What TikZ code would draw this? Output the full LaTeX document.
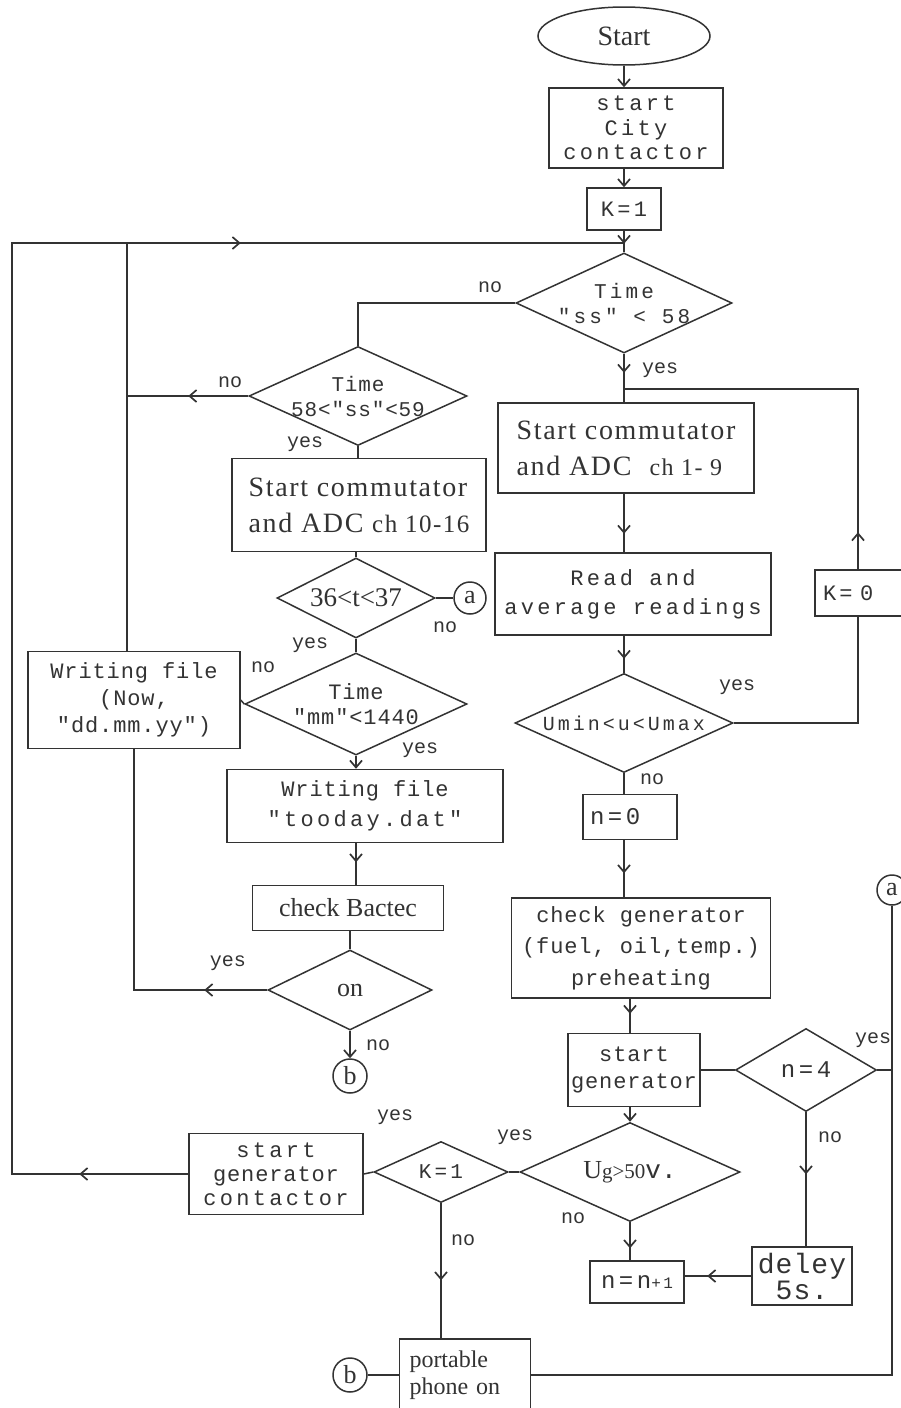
\documentclass[tikz,border=0pt]{standalone}
\usepackage{fontspec}
\setmainfont{Liberation Serif}
\newfontfamily\monow[LetterSpace=15]{Liberation Mono}
\newfontfamily\monon[LetterSpace=4]{Liberation Mono}
\newfontfamily\monoz{Liberation Mono}
\newfontfamily\serifw[LetterSpace=6]{Liberation Serif}
\usetikzlibrary{shapes.geometric,arrows.meta,decorations.markings,calc}
\definecolor{ink}{gray}{0.2}
\tikzset{
 ln/.style={draw=ink,line width=1.5pt},
 box/.style={draw=ink,line width=1.5pt,rectangle,inner sep=0pt,align=center,text=ink},
 dia/.style={draw=ink,line width=1.5pt,diamond,inner sep=0pt},
 dtxt/.style={text=ink,align=center,inner sep=0pt},
 lab/.style={text=ink,font=\monoz\fontsize{20}{20}\selectfont,inner sep=0pt},
 conn/.style={draw=ink,line width=1.5pt,circle,inner sep=0pt,minimum size=32pt,font=\fontsize{26}{26}\selectfont,text=ink},
 endarr/.style={-{Straight Barb[length=7pt,width=12pt,line width=1.7pt]}},
 arrowat/.style={postaction={decorate,decoration={markings,mark=at position #1 with {\arrow{Straight Barb[length=7pt,width=12pt,line width=1.7pt]}}}}},
}
\begin{document}
\begin{tikzpicture}[x=1pt,y=-1pt]
\clip (0,0) rectangle (901,1408);
\fill[white] (0,0) rectangle (901,1408);

% ---------- top ----------
\node[ellipse,draw=ink,line width=1.5pt,minimum width=172pt,minimum height=58pt,inner sep=0pt,font=\fontsize{28}{28}\selectfont,text=ink] (start) at (624,36) {Start};
\node[box,minimum width=174pt,minimum height=80pt,font=\monow\fontsize{22}{24.5}\selectfont] (city) at (636,128) {start\\City\\contactor};
\node[box,minimum width=74pt,minimum height=42pt,font=\monow\fontsize{22}{24}\selectfont] (k1) at (624,209) {K=1};
\coordinate (j1) at (624,243);
\coordinate (ll) at (12,243);
\coordinate (lv) at (127,243);

\draw[ln,endarr] (start.south) -- (start.south |- city.north);
\draw[ln,endarr] (k1.north |- city.south) -- (k1.north);

% ---------- decision 1 ----------
\node[dia,minimum width=216pt,minimum height=100pt,label={[dtxt,font=\monow\fontsize{21}{25}\selectfont]center:{Time\\"ss" < 58}}] (d1) at (624,303) {};
\draw[ln,arrowat=13pt] (k1.south) -- (d1.north);
\node[lab] at (490,287) {no};

% ---------- left column ----------
\node[dia,minimum width=218pt,minimum height=99pt,label={[dtxt,font=\monon\fontsize{21}{25}\selectfont]center:{Time\\58<"ss"<59}}] (d2) at (358,396) {};
\draw[ln] (d1.west) -- (d1.west -| d2.north) -- (d2.north);
\draw[ln,arrowat=60pt] (d2.west) -- (d2.west -| lv);
\node[lab] at (230,382) {no};

\node[box,minimum width=254pt,minimum height=93pt,align=left,font=\serifw\fontsize{28}{36}\selectfont] (b1) at (359,505) {Start commutator\\and ADC {\fontsize{25}{25}\selectfont ch 10-16}};
\draw[ln] (d2.south) -- (d2.south |- b1.north);
\node[lab] at (305,444) {yes};

\node[dia,minimum width=158pt,minimum height=80pt,label={[dtxt,font=\fontsize{27}{27}\selectfont]center:{36<t<37}}] (d3) at (356,598) {};
\draw[ln] (d3.north |- b1.south) -- (d3.north);
\node[conn] (ca1) at (470,598) {a};
\draw[ln] (d3.east) -- (ca1.west);
\node[lab] at (445,627) {no};

\node[dia,minimum width=222pt,minimum height=102pt,label={[dtxt,font=\monon\fontsize{22}{25}\selectfont]center:{Time\\"mm"<1440}}] (d4) at (356,704) {};
\draw[ln] (d3.south) -- (d4.north);
\node[lab] at (310,645) {yes};

\node[box,minimum width=212pt,minimum height=97pt,font=\monon\fontsize{22}{27}\selectfont] (wf) at (134,700) {Writing file\\(Now,\\"dd.mm.yy")};
\draw[ln] (d4.west) -- (wf.east);
\node[lab] at (263,667) {no};
\draw[ln] (lv) -- (lv |- wf.north);

\node[box,minimum width=276pt,minimum height=73pt,font=\fontsize{22}{30}\selectfont] (b2) at (365,806) {{\monon Writing file}\\{\monow "tooday.dat"}};
\draw[ln,endarr] (d4.south) -- (d4.south |- b2.north);
\node[lab] at (420,750) {yes};

\node[box,minimum width=191pt,minimum height=45pt,font=\fontsize{26}{26}\selectfont] (b3) at (348,908) {check Bactec};
\draw[ln,arrowat=19pt] (d4.south |- b2.south) -- (d4.south |- b3.north);

\node[dia,minimum width=164pt,minimum height=80pt,label={[dtxt,font=\fontsize{26}{26}\selectfont]center:on}] (d5) at (350,990) {};
\draw[ln] (d5.north |- b3.south) -- (d5.north);
\draw[ln,arrowat=63pt] (d5.west) -- (d5.west -| wf.south) -- (wf.south);
\node[lab] at (228,963) {yes};
\node[conn,minimum size=34pt] (cb1) at (350,1076) {b};
\draw[ln,endarr] (d5.south) -- (cb1.north);
\node[lab] at (378,1045) {no};

% ---------- right column ----------
\node[box,minimum width=256pt,minimum height=90pt,align=left,font=\serifw\fontsize{28}{36}\selectfont] (b4) at (626,448) {Start commutator\\and ADC\hspace{18pt}{\fontsize{24}{24}\selectfont ch 1- 9}};
\draw[ln,arrowat=19pt] (d1.south) -- (d1.south |- b4.north);
\node[lab] at (660,370) {yes};
\coordinate (j2) at (624,389);
\coordinate (rc) at (858,389);

\node[box,minimum height=46pt,text width=74pt,inner xsep=8pt,align=left,font=\monow\fontsize{22}{22}\selectfont] (k0) at (860,593) {K= 0};

\node[box,minimum width=276pt,minimum height=82pt,font=\monow\fontsize{22}{29}\selectfont] (b5) at (633,594) {Read and\\average readings};
\draw[ln,arrowat=40pt] (j2 |- b4.south) -- (j2 |- b5.north);

\node[dia,minimum width=218pt,minimum height=99pt,label={[dtxt,font=\monow\fontsize{20}{20}\selectfont]center:{Umin<u<Umax}}] (d6) at (624,723) {};
\draw[ln,arrowat=23pt] (j2 |- b5.south) -- (d6.north);
\draw[ln] (d6.east) -- (d6.east -| rc) -- (rc |- k0.south);
\draw[ln,arrowat=37pt] (rc |- k0.north) -- (rc) -- (j2);
\node[lab] at (737,687) {yes};

\node[box,minimum height=45pt,text width=80pt,inner xsep=7pt,align=left,font=\monow\fontsize{24}{24}\selectfont] (n0) at (630,817) {n=0};
\draw[ln] (d6.south) -- (d6.south |- n0.north);
\node[lab] at (652,779) {no};

\node[box,minimum width=259pt,minimum height=100pt,font=\monon\fontsize{22}{31.5}\selectfont] (b6) at (641,948) {check generator\\(fuel, oil,temp.)\\preheating};
\draw[ln,arrowat=33pt] (j2 |- n0.south) -- (j2 |- b6.north);

\node[box,minimum width=132pt,minimum height=73pt,font=\monon\fontsize{22}{27}\selectfont] (sg) at (634,1070) {start\\generator};
\node[dia,minimum width=220pt,minimum height=99pt,label={[dtxt,font=\fontsize{26}{26}\selectfont]center:{U{\fontsize{21}{21}\selectfont g>50}{\monoz v.}}}] (d8) at (630,1172) {};
\draw[ln,arrowat=15pt] (d8.north |- b6.south) -- (d8.north |- sg.north);
\draw[ln,endarr] (d8.north |- sg.south) -- (d8.north);

\node[dia,minimum width=141pt,minimum height=83pt,label={[dtxt,font=\monow\fontsize{24}{24}\selectfont]center:{n=4}}] (d7) at (806,1070) {};
\draw[ln] (sg.east) -- (d7.west);
\node[conn,minimum size=30pt] (ca2) at (892,890) {a};
\draw[ln] (d7.east) -- (d7.east -| ca2.south);
\node[lab] at (873,1040) {yes};

\node[box,minimum width=100pt,minimum height=58pt,font=\monon\fontsize{28}{26}\selectfont] (dl) at (802,1276) {deley\\5s.};
\draw[ln,arrowat=62pt] (d7.south) -- (d7.south |- dl.north);
\node[lab] at (830,1137) {no};

\node[box,minimum width=94pt,minimum height=42pt,font=\monow\fontsize{24}{24}\selectfont] (nn) at (637,1282) {n=n{\fontsize{16}{16}\selectfont +1}};
\draw[ln,arrowat=44pt] (dl.west) -- (dl.west -| nn.east);
\draw[ln,arrowat=26pt] (d8.south) -- (d8.south |- nn.north);
\node[lab] at (573,1218) {no};
\node[lab] at (515,1137) {yes};

\node[dia,minimum width=134pt,minimum height=61pt,label={[dtxt,font=\monow\fontsize{21}{21}\selectfont]center:{K=1}}] (d9) at (441,1172) {};
\draw[ln] (d8.west) -- (d9.east);
\node[box,minimum width=174pt,minimum height=81pt,font=\fontsize{22}{24}\selectfont] (sgc) at (276,1174) {{\monow start}\\{\monon generator}\\{\monow contactor}};
\draw[ln] (d9.west) -- (sgc.east);
\node[lab] at (395,1117) {yes};
\draw[ln,arrowat=109pt,arrowat=1336pt] (sgc.west) -- (sgc.west -| ll) -- (ll) -- (j1);

\node[box,minimum height=72pt,text width=111pt,inner xsep=10pt,align=left,font=\fontsize{24}{27}\selectfont] (pp) at (465,1375) {portable\\phone on};
\draw[ln,arrowat=77pt] (d9.south) -- (d9.south |- pp.north);
\node[lab] at (463,1240) {no};
\node[conn,minimum size=34pt] (cb2) at (350,1375) {b};
\draw[ln] (cb2.east) -- (pp.west);
\draw[ln] (ca2.south) -- (ca2.south |- pp.east) -- (pp.east);
\end{tikzpicture}
\end{document}
